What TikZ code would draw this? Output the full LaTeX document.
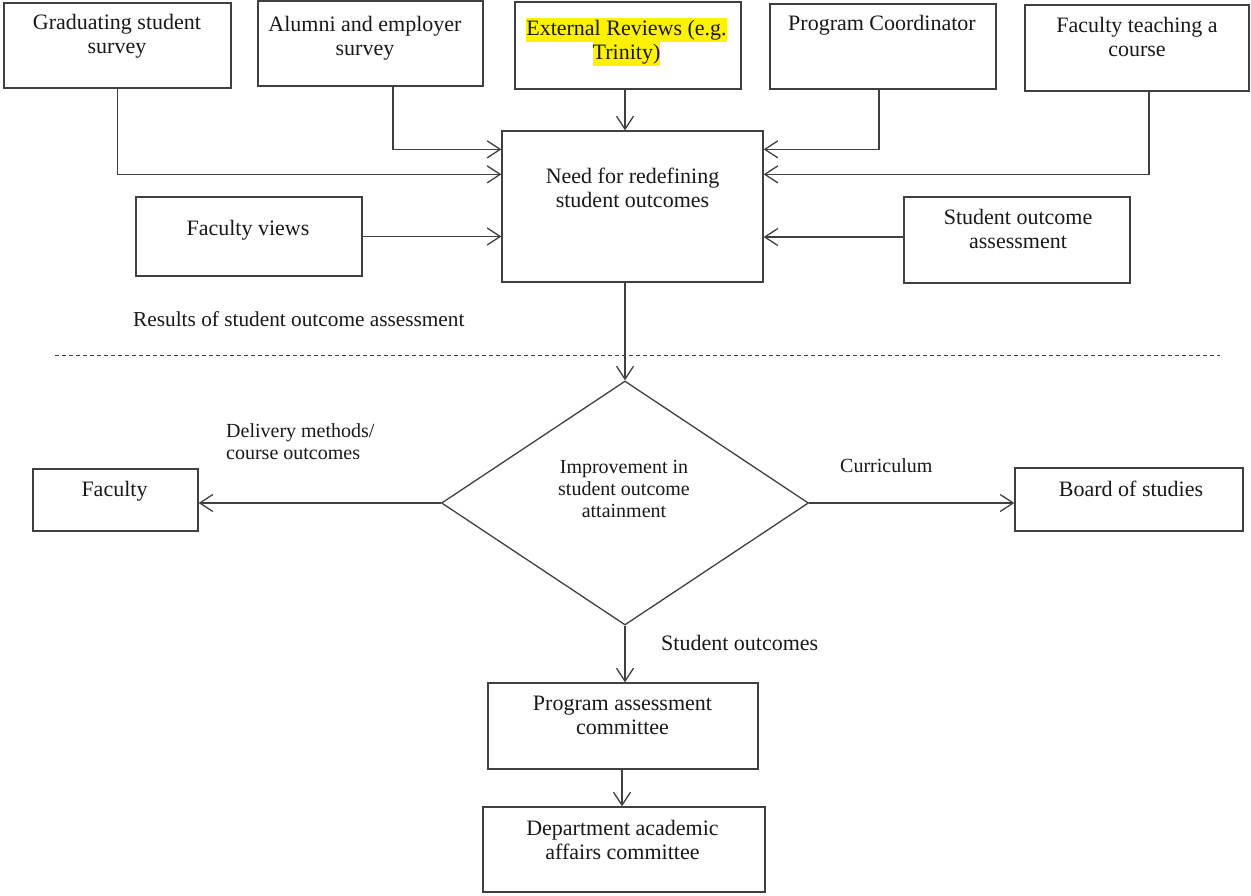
\documentclass[tikz,border=0pt]{standalone}
\usepackage{fontspec}
\setmainfont{Liberation Serif}
\usetikzlibrary{arrows.meta,shapes.geometric,calc}
\newcommand{\bigfnt}{\fontsize{22}{24}\selectfont}
\newcommand{\midfnt}{\fontsize{21.3}{24}\selectfont}
\newcommand{\smfnt}{\fontsize{20}{22}\selectfont}
\newcommand{\hlline}[1]{{\setlength{\fboxsep}{0pt}\colorbox{yellow}{\strut #1}}}
\begin{document}
\begin{tikzpicture}[x=1pt,y=-1pt,
  box/.style={draw=black!75, line width=1.3pt, rectangle, inner sep=0pt},
  lbl/.style={inner sep=0pt, align=center, font=\bigfnt, text=black!90},
  slbl/.style={inner sep=0pt, align=center, font=\smfnt, text=black!90},
  arr/.style={draw=black!75, line width=1.3pt, -{Straight Barb[length=13pt,width=17pt,line width=1.3pt]}},
  ln/.style={draw=black!75, line width=1.3pt}]
\useasboundingbox (0,0) rectangle (1251,895);
\fill[white] (0,0) rectangle (1251,895);

% boxes
\node[box, minimum width=227pt, minimum height=85pt] (g) at (117.5,45.5) {};
\node[box, minimum width=225pt, minimum height=85pt] (a) at (370.5,43.5) {};
\node[box, minimum width=226pt, minimum height=87pt] (e) at (628,45.5) {};
\node[box, minimum width=226pt, minimum height=85pt] (p) at (883,46.5) {};
\node[box, minimum width=224pt, minimum height=86pt] (f) at (1137,48) {};
\node[box, minimum width=261pt, minimum height=151pt] (c) at (632.5,206.5) {};
\node[box, minimum width=226pt, minimum height=79pt] (fv) at (249,236.5) {};
\node[box, minimum width=226pt, minimum height=86pt] (sa) at (1017,240) {};
\node[draw=black!75, line width=1.3pt, diamond, inner sep=0pt, minimum width=367pt, minimum height=244pt] (d) at (625,503) {};
\node[box, minimum width=165pt, minimum height=62pt] (fac) at (115.5,500) {};
\node[box, minimum width=228pt, minimum height=63pt] (bos) at (1129,499.5) {};
\node[box, minimum width=270pt, minimum height=86pt] (pac) at (623,726) {};
\node[box, minimum width=282pt, minimum height=85pt] (daac) at (624,849.5) {};

% box texts
\node[lbl] (gt) at (117,36.2) {\strut Graduating student\\\strut survey};
\node[lbl] (at) at (365,38.2) {\strut Alumni and employer\\\strut survey};
\node[lbl] (et) at (626.5,42.2) {\hlline{External Reviews (e.g.}\\\hlline{Trinity)}};
\node[lbl] (pt) at (882,25.2) {\strut Program Coordinator};
\node[lbl] (ft) at (1137,39.2) {\strut Faculty teaching a\\\strut course};
\node[lbl] (ct) at (632.5,191) {\strut Need for redefining\\\strut student outcomes};
\node[lbl] (fvt) at (248,230.2) {\strut Faculty views};
\node[lbl] (sat) at (1018,231.2) {\strut Student outcome\\\strut assessment};
\node[slbl] (dt) at (624,490.6) {\strut Improvement in\\\strut student outcome\\\strut attainment};
\node[lbl] (fact) at (114.5,491.2) {\strut Faculty};
\node[lbl] (bost) at (1131,491.2) {\strut Board of studies};
\node[lbl] (pact) at (622.5,717.2) {\strut Program assessment\\\strut committee};
\node[lbl] (daact) at (622.5,842.2) {\strut Department academic\\\strut affairs committee};

% free labels
\node[lbl, font=\midfnt, anchor=west] (res) at (133,321.2) {\strut Results of student outcome assessment};
\node[slbl, anchor=west, align=left] (del) at (226,443.6) {\strut Delivery methods/\\\strut course outcomes};
\node[slbl, anchor=west] (cur) at (840,467.6) {\strut Curriculum};
\node[lbl, anchor=west] (so) at (661,645.2) {\strut Student outcomes};

% dashed separator
\draw[black!75, line width=1pt, dash pattern=on 4pt off 3pt] (55,355) -- (1220,355);

% connectors
\draw[arr] (g.south) |- ([yshift=-44pt]c.north west);
\draw[arr] ([xshift=22.5pt]a.south) |- ([yshift=-19pt]c.north west);
\draw[arr] ([xshift=-3pt]e.south) -- ([xshift=-3pt]e.south |- c.north);
\draw[arr] ([xshift=-4pt]p.south) |- ([yshift=-19pt]c.north east);
\draw[arr] ([xshift=12pt]f.south) |- ([yshift=-44pt]c.north east);
\draw[arr] (fv.east) -- (fv.east -| c.west);
\draw[arr] ([yshift=3pt]sa.west) -- ([yshift=3pt]sa.west -| c.east);
\draw[arr] (d.north |- c.south) -- (d.north);
\draw[arr] (d.west) -- (d.west -| fac.east);
\draw[arr] (d.east) -- (d.east -| bos.west);
\draw[arr] (d.south) -- (d.south |- pac.north);
\draw[arr] ([xshift=-1pt]pac.south) -- ([xshift=-1pt]pac.south |- daac.north);
\end{tikzpicture}
\end{document}
